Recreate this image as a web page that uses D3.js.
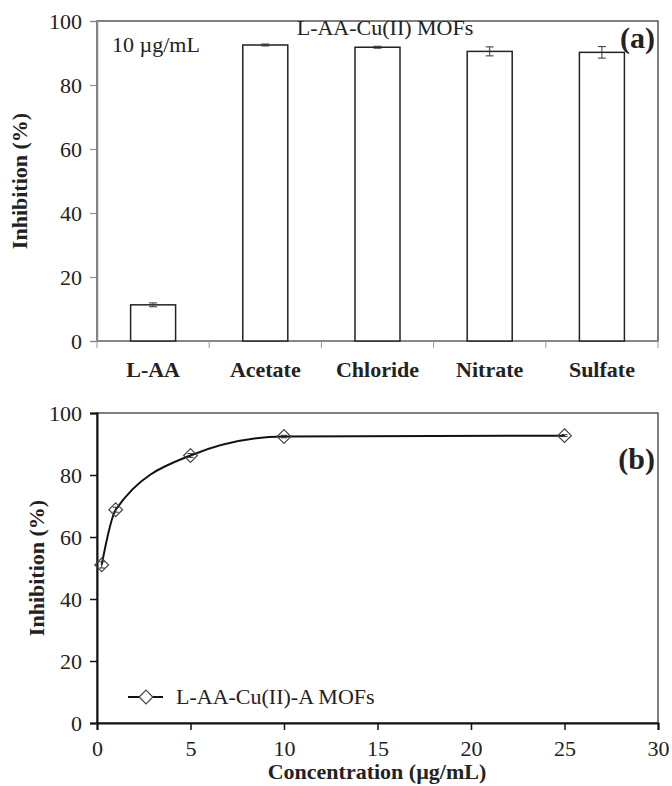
<!DOCTYPE html>
<html>
<head>
<meta charset="utf-8">
<script src="https://cdn.jsdelivr.net/npm/d3@7"></script>
<style>
body { margin: 0; background: #fff; }
svg text { font-family: "Liberation Serif", "Times New Roman", serif; fill: #222; }
</style>
</head>
<body>
<svg id="chart" width="672" height="786"></svg>
<script>
"use strict"

// panel (a) data
var categories = ["L-AA", "Acetate", "Chloride", "Nitrate", "Sulfate"];
var inhibition = [11.3, 92.5, 91.8, 90.5, 90.2];
var inhibErr   = [0.6, 0.3, 0.3, 1.4, 1.8];

// panel (b) data
var concentration = [0.25, 1, 5, 10, 25];
var inhibitionB   = [51, 68.8, 86.3, 92.4, 92.7];
var inhibErrB     = [1.0, 0.8, 0.6, 0.4, 0.3];

var yTicks = [0, 20, 40, 60, 80, 100];
var xTicksB = [0, 5, 10, 15, 20, 25, 30];

var FS = "22px";
var svg = d3.select("#chart");

// ---------- panel (a) ----------
var ga = svg.append("g");
var xa = d3.scaleBand().domain(categories).range([97, 658]);
var ya = d3.scaleLinear().domain([0, 100]).range([341, 21]);

// frame
ga.append("rect")
  .attr("x", 97).attr("y", 21).attr("width", 561).attr("height", 320)
  .style("fill", "none").style("stroke", "#555").style("stroke-width", 1.5);

var yaxA = ga.append("g").attr("transform", "translate(97,0)")
  .call(d3.axisLeft(ya).tickValues(yTicks).tickSize(7).tickPadding(8));
yaxA.select(".domain").style("stroke", "#888").style("stroke-width", 1.5);
yaxA.selectAll(".tick line").style("stroke", "#888");
yaxA.selectAll("text").style("font-size", FS).style("font-family", "Liberation Serif");

// x axis line and category separators
ga.append("line").attr("x1", 97).attr("x2", 658).attr("y1", 341).attr("y2", 341)
  .style("stroke", "#888").style("stroke-width", 1.5);
ga.selectAll(".sep")
  .data(categories.concat(["end"]))
  .enter()
  .append("line")
  .attr("x1", function(d, i){ return 97 + i * xa.bandwidth(); })
  .attr("x2", function(d, i){ return 97 + i * xa.bandwidth(); })
  .attr("y1", 341).attr("y2", 348)
  .style("stroke", "#999");

ga.selectAll(".bar")
  .data(categories)
  .enter()
  .append("rect")
  .attr("x", function(d){ return xa(d) + xa.bandwidth() / 2 - 22.5; })
  .attr("width", 45)
  .attr("y", function(d, i){ return ya(inhibition[i]); })
  .attr("height", function(d, i){ return ya(0) - ya(inhibition[i]); })
  .style("fill", "#fff").style("stroke", "#222").style("stroke-width", 1.5);

categories.forEach(function(d, i){
  var cx = xa(d) + xa.bandwidth() / 2;
  var lo = ya(inhibition[i] - inhibErr[i]), hi = ya(inhibition[i] + inhibErr[i]);
  ga.append("line").attr("x1", cx).attr("x2", cx).attr("y1", lo).attr("y2", hi).style("stroke", "#333");
  ga.append("line").attr("x1", cx - 4).attr("x2", cx + 4).attr("y1", lo).attr("y2", lo).style("stroke", "#333");
  ga.append("line").attr("x1", cx - 4).attr("x2", cx + 4).attr("y1", hi).attr("y2", hi).style("stroke", "#333");
});

ga.selectAll(".catlabel")
  .data(categories)
  .enter()
  .append("text")
  .attr("x", function(d){ return xa(d) + xa.bandwidth() / 2; })
  .attr("y", 377)
  .attr("text-anchor", "middle")
  .style("font-size", FS).style("font-weight", "bold")
  .text(function(d){ return d; });

ga.append("text")
  .attr("transform", "translate(27,181) rotate(-90)")
  .attr("text-anchor", "middle")
  .style("font-size", FS).style("font-weight", "bold")
  .text("Inhibition (%)");

ga.append("text").attr("x", 112).attr("y", 52)
  .style("font-size", FS).text("10 \u00b5g/mL");
ga.append("text").attr("x", 385).attr("y", 35).attr("text-anchor", "middle")
  .style("font-size", FS).text("L-AA-Cu(II) MOFs");
ga.append("text").attr("x", 655).attr("y", 48).attr("text-anchor", "end")
  .style("font-size", "30px").style("font-weight", "bold").text("(a)");

// ---------- panel (b) ----------
var gb = svg.append("g");
var xb = d3.scaleLinear().domain([0, 30]).range([97, 658]);
var yb = d3.scaleLinear().domain([0, 100]).range([723, 413]);

gb.append("rect")
  .attr("x", 97).attr("y", 413).attr("width", 561).attr("height", 310)
  .style("fill", "none").style("stroke", "#555").style("stroke-width", 1.5);

var yaxB = gb.append("g").attr("transform", "translate(97,0)")
  .call(d3.axisLeft(yb).tickValues(yTicks).tickSize(7).tickPadding(8));
yaxB.select(".domain").style("stroke", "#111").style("stroke-width", 2);
yaxB.selectAll(".tick line").style("stroke", "#111").style("stroke-width", 1.5);
yaxB.selectAll("text").style("font-size", FS).style("font-family", "Liberation Serif");

var xaxB = gb.append("g").attr("transform", "translate(0,723)")
  .call(d3.axisBottom(xb).tickValues(xTicksB).tickSize(7).tickPadding(10));
xaxB.select(".domain").style("stroke", "#111").style("stroke-width", 2);
xaxB.selectAll(".tick line").style("stroke", "#111").style("stroke-width", 1.5);
xaxB.selectAll("text").style("font-size", FS).style("font-family", "Liberation Serif");

var ptsB = concentration.map(function(c, i){ return [c, inhibitionB[i]]; });
var line = d3.line()
  .x(function(d){ return xb(d[0]); })
  .y(function(d){ return yb(d[1]); })
  .curve(d3.curveMonotoneX);
gb.append("path").datum(ptsB).attr("d", line)
  .style("fill", "none").style("stroke", "#111").style("stroke-width", 2);

// error bars
ptsB.forEach(function(d, i){
  var cx = xb(d[0]);
  var lo = yb(d[1] - inhibErrB[i]), hi = yb(d[1] + inhibErrB[i]);
  gb.append("line").attr("x1", cx).attr("x2", cx).attr("y1", lo).attr("y2", hi).style("stroke", "#333");
  gb.append("line").attr("x1", cx - 3).attr("x2", cx + 3).attr("y1", lo).attr("y2", lo).style("stroke", "#333");
  gb.append("line").attr("x1", cx - 3).attr("x2", cx + 3).attr("y1", hi).attr("y2", hi).style("stroke", "#333");
});

var diamond = d3.symbol().type(d3.symbolDiamond2).size(120);
gb.selectAll(".pt")
  .data(ptsB)
  .enter()
  .append("path")
  .attr("d", diamond)
  .attr("transform", function(d){ return "translate(" + xb(d[0]) + "," + yb(d[1]) + ")"; })
  .style("fill", "none").style("stroke", "#444").style("stroke-width", 1.2);

// legend
gb.append("line").attr("x1", 128).attr("x2", 163).attr("y1", 697).attr("y2", 697)
  .style("stroke", "#111").style("stroke-width", 2);
gb.append("path").attr("d", diamond).attr("transform", "translate(146,697)")
  .style("fill", "#fff").style("stroke", "#444").style("stroke-width", 1.2);
gb.append("text").attr("x", 176).attr("y", 704)
  .style("font-size", FS).text("L-AA-Cu(II)-A MOFs");

gb.append("text")
  .attr("transform", "translate(44,568) rotate(-90)")
  .attr("text-anchor", "middle")
  .style("font-size", FS).style("font-weight", "bold")
  .text("Inhibition (%)");
gb.append("text").attr("x", 377).attr("y", 779).attr("text-anchor", "middle")
  .style("font-size", FS).style("font-weight", "bold")
  .text("Concentration (\u00b5g/mL)");
gb.append("text").attr("x", 655).attr("y", 469).attr("text-anchor", "end")
  .style("font-size", "30px").style("font-weight", "bold").text("(b)");
</script>
</body>
</html>
